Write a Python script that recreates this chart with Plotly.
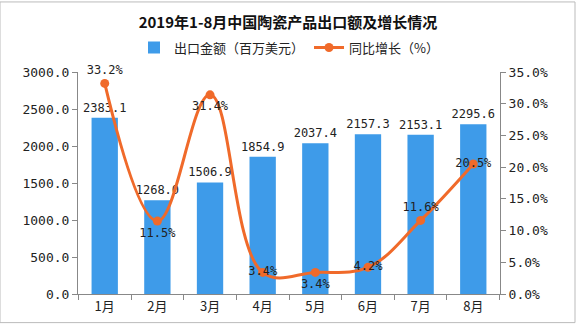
import plotly.graph_objects as go

months = ["1月", "2月", "3月", "4月", "5月", "6月", "7月", "8月"]
export_value = [2383.1, 1268.0, 1506.9, 1854.9, 2037.4, 2157.3, 2153.1, 2295.6]
growth = [33.2, 11.5, 31.4, 3.4, 3.4, 4.2, 11.6, 20.5]
growth_pos = ["top center", "bottom center", "bottom center", "middle center",
              "bottom center", "middle center", "top center", "middle center"]

BLUE = "#3E9BE9"
ORANGE = "#F06A2A"
NUMFONT = "DejaVu Sans Mono, Noto Sans CJK SC"

fig = go.Figure()
fig.add_trace(go.Bar(
    x=months, y=export_value, name="出口金额（百万美元）",
    marker=dict(color=BLUE, line=dict(width=0)),
    text=[f"{v:.1f}" for v in export_value], textposition="outside",
    textfont=dict(family=NUMFONT, size=12, color="#222"),
    constraintext="none",
    cliponaxis=False, width=0.5,
))
fig.add_trace(go.Scatter(
    x=months, y=growth, name="同比增长（%）", yaxis="y2",
    mode="lines+markers+text",
    line=dict(color=ORANGE, width=3, shape="spline", smoothing=1.1),
    marker=dict(color=ORANGE, size=9),
    text=[f"{v:.1f}%" for v in growth], textposition=growth_pos,
    textfont=dict(family=NUMFONT, size=12, color="#222"),
    cliponaxis=False,
))

fig.update_layout(
    width=576, height=327,
    margin=dict(l=78, r=76, t=72, b=30),
    paper_bgcolor="white", plot_bgcolor="white",
    title=dict(text="<b>2019年1-8月中国陶瓷产品出口额及增长情况</b>",
               x=0.5, xanchor="center", y=0.93, yanchor="middle",
               font=dict(family="Noto Sans CJK SC", size=15, color="#111")),
    legend=dict(orientation="h", x=0.5, xanchor="center", y=1.11, yanchor="middle",
                font=dict(family="Noto Sans CJK SC", size=13, color="#222"),
                itemwidth=30, bgcolor="rgba(0,0,0,0)"),
    showlegend=True,
    xaxis=dict(showline=True, linecolor="#888", ticks="outside", tickson="boundaries",
               tickcolor="#888", ticklen=5,
               tickfont=dict(family="Noto Sans CJK SC", size=13, color="#222")),
    yaxis=dict(range=[0, 3000], dtick=500, tickformat=".1f", showgrid=False,
               showline=True, linecolor="#888", ticks="outside", tickcolor="#888", ticklen=5,
               tickfont=dict(family=NUMFONT, size=13, color="#222"), zeroline=False),
    yaxis2=dict(range=[0, 35], dtick=5, tickformat=".1f", ticksuffix="%",
                overlaying="y", side="right", showgrid=False,
                showline=True, linecolor="#888", ticks="outside", tickcolor="#888", ticklen=5,
                tickfont=dict(family=NUMFONT, size=13, color="#222"), zeroline=False),
    bargap=0.5,
    shapes=[dict(type="rect", xref="paper", yref="paper", x0=-78/422, x1=1 + 75/422,
                 y0=-29/225, y1=1 + 71/225, line=dict(color="#bbb", width=1))],
)

fig.write_html("out.html")
